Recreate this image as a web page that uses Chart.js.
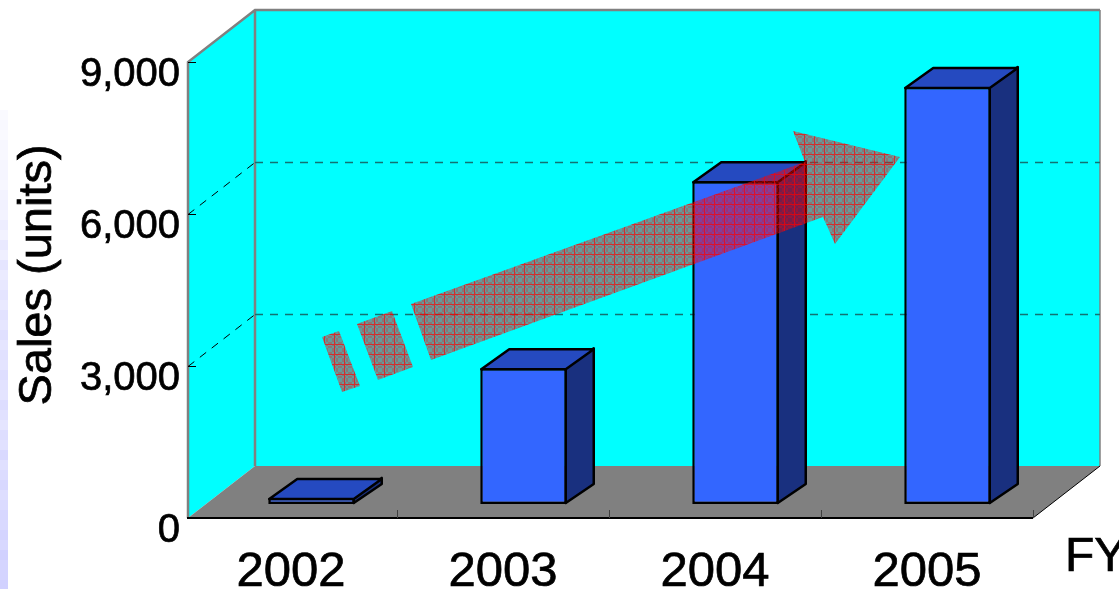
<!DOCTYPE html>
<html>
<head>
<meta charset="utf-8">
<title>Sales (units)</title>
<script src="https://cdn.jsdelivr.net/npm/chart.js@4/dist/chart.umd.min.js"></script>
<style>
  html, body { margin: 0; padding: 0; background: #fff; overflow: hidden; }
  #box { position: relative; width: 1119px; height: 589px; }
</style>
</head>
<body>
<div id="box"><canvas id="chart-sales" width="1119" height="589"></canvas></div>
<script>
const years = ['2002', '2003', '2004', '2005'];
const sales = [120, 2680, 6370, 8230];
const yTicks = [0, 3000, 6000, 9000];

const FONT = '"Liberation Sans", Arial, sans-serif';
const ROOM_INSET = 3;               // room's front corner sits right of the first category edge
const WALL = { dx: 67, dy: -52 };   // back wall offset from the front plane
const BAR_SHIFT = { dx: 20.5, dy: -14 }; // bars stand mid-way on the floor
const BAR_DEPTH = { dx: 28, dy: -20 };

// Trend arrow, outline in canvas pixels
const arrowBody = [[411, 304], [805, 162], [793, 131], [900, 157], [835, 244], [823, 217], [431, 360]];
const arrowDash1 = [[357, 324], [392, 311], [413, 367], [378, 380]];
const arrowDash2 = [[322, 337], [339, 331], [360, 386], [342, 392]];

// Faded strip of the slide background on the far left, top to bottom
const stripAlpha = [.08, .1, .08, .12, .1, .14, .16, .12, .18, .22, .18, .28, .2, .34, .24, .4, .3, .36, .42,
  .34, .44, .38, .48, .4, .46, .42, .5, .44, .42, .52, .46, .4, .5, .46, .58, .48, .54, .6, .5, .56, .62, .58, .66, .6, .7, .64, .66, .7];

function path(ctx, pts) {
  ctx.beginPath();
  pts.forEach((p, i) => i ? ctx.lineTo(p[0], p[1]) : ctx.moveTo(p[0], p[1]));
  ctx.closePath();
}

function hatchPattern(ctx) {
  const tile = document.createElement('canvas');
  tile.width = tile.height = 10;
  const t = tile.getContext('2d');
  for (let x = 0; x < 10; x++) {
    for (let y = 0; y < 10; y++) {
      t.fillStyle = (Math.floor(x / 2) + Math.floor(y / 2)) % 2 ? 'rgba(255,0,0,0.54)' : 'rgba(255,0,0,0.4)';
      t.fillRect(x, y, 1, 1);
    }
  }
  t.clearRect(0, 4, 10, 1);
  t.clearRect(4, 0, 1, 10);
  t.fillStyle = 'rgba(255,0,0,0.82)';
  t.fillRect(0, 4, 10, 1);
  t.fillRect(4, 0, 1, 4);
  t.fillRect(4, 5, 1, 5);
  return ctx.createPattern(tile, 'repeat');
}

const roomPlugin = {
  id: 'room',
  beforeDraw(chart) {
    const { ctx, chartArea: a, scales: { y } } = chart;
    const left = a.left + ROOM_INSET;
    ctx.save();

    stripAlpha.forEach((al, i) => {
      ctx.fillStyle = `rgba(190,190,255,${al})`;
      ctx.fillRect(0, 110 + i * 10, 8, 10);
    });

    const bx = left + WALL.dx, tx = a.right + WALL.dx;
    const by = a.bottom + WALL.dy, ty = a.top + WALL.dy;

    // side wall and back wall
    ctx.fillStyle = '#00ffff';
    path(ctx, [[left, a.top], [bx, ty], [bx, by], [left, a.bottom]]);
    ctx.fill();
    ctx.fillRect(bx, ty, tx - bx, by - ty);

    // floor
    ctx.fillStyle = '#808080';
    path(ctx, [[left, a.bottom], [bx, by], [tx, by], [a.right, a.bottom]]);
    ctx.fill();

    // wall edges
    ctx.strokeStyle = '#808080';
    ctx.lineWidth = 2.5;
    ctx.beginPath();
    ctx.moveTo(left, a.bottom); ctx.lineTo(left, a.top); ctx.lineTo(bx, ty); ctx.lineTo(tx, ty);
    ctx.moveTo(bx, ty); ctx.lineTo(bx, by);
    ctx.stroke();
    ctx.lineWidth = 1.5;
    ctx.beginPath();
    ctx.moveTo(tx, ty); ctx.lineTo(tx, by);
    ctx.stroke();

    // gridlines running over side wall and back wall
    ctx.setLineDash([8, 7]);
    yTicks.slice(1, 3).forEach((v) => {
      const py = Math.round(y.getPixelForValue(v)) + 0.5;
      ctx.strokeStyle = '#000';
      ctx.lineWidth = 1;
      ctx.beginPath();
      ctx.moveTo(left, py); ctx.lineTo(bx, py + WALL.dy);
      ctx.stroke();
      ctx.strokeStyle = '#127272';
      ctx.lineWidth = 1.4;
      ctx.beginPath();
      ctx.moveTo(bx, py + WALL.dy); ctx.lineTo(tx, py + WALL.dy);
      ctx.stroke();
    });
    ctx.setLineDash([]);

    // floor edge on the right, base line of the front plane
    ctx.strokeStyle = '#000';
    ctx.lineWidth = 1;
    ctx.beginPath();
    ctx.moveTo(a.right, a.bottom); ctx.lineTo(tx, by);
    ctx.stroke();
    ctx.lineWidth = 2;
    ctx.beginPath();
    ctx.moveTo(left - 1, a.bottom); ctx.lineTo(a.right, a.bottom);
    ctx.stroke();

    // inward tick marks
    ctx.lineWidth = 1;
    ctx.beginPath();
    yTicks.slice(1).forEach((v) => {
      const py = Math.round(y.getPixelForValue(v)) + 0.5;
      ctx.moveTo(left, py); ctx.lineTo(left + 8, py);
    });
    ctx.stroke();
    ctx.strokeStyle = '#404040';
    ctx.beginPath();
    years.forEach((_, i) => {
      const px = Math.round(a.left + (a.right - a.left) * (i + 1) / years.length) + 0.5;
      ctx.moveTo(px, a.bottom); ctx.lineTo(px, a.bottom - 8);
    });
    ctx.stroke();
    ctx.restore();
  },
  // side and top faces go under the library's front face, all shifted onto the floor
  beforeDatasetDraw(chart, args) {
    const { ctx } = chart;
    ctx.save();
    ctx.translate(BAR_SHIFT.dx, BAR_SHIFT.dy);
    ctx.strokeStyle = '#000';
    ctx.lineWidth = 2.5;
    ctx.lineJoin = 'round';
    args.meta.data.forEach((bar) => {
      const l = bar.x - bar.width / 2, r = bar.x + bar.width / 2;
      const top = bar.y, base = bar.base;
      const d = BAR_DEPTH;
      ctx.fillStyle = '#19307f';
      path(ctx, [[r - 1, top], [r - 1 + d.dx, top + d.dy], [r - 1 + d.dx, base + d.dy], [r - 1, base - 1]]);
      ctx.fill(); ctx.stroke();
      ctx.fillStyle = '#254ac0';
      path(ctx, [[l + 1, top + 1], [l + 1 + d.dx, top + 1 + d.dy], [r - 1 + d.dx, top + 1 + d.dy], [r - 1, top + 1]]);
      ctx.fill(); ctx.stroke();
    });
  },
  afterDatasetDraw(chart) {
    chart.ctx.restore();
  },
  afterDatasetsDraw(chart) {
    const { ctx, scales: { y } } = chart;
    ctx.save();
    ctx.fillStyle = hatchPattern(ctx);
    [arrowBody, arrowDash1, arrowDash2].forEach((pts) => {
      path(ctx, pts);
      ctx.fill();
    });

    // axis captions
    ctx.fillStyle = '#000';
    ctx.strokeStyle = '#000';
    ctx.lineWidth = 0.7;
    ctx.font = '47px ' + FONT;
    ctx.textBaseline = 'alphabetic';
    ctx.textAlign = 'center';
    ctx.save();
    ctx.translate(51, (y.top + y.bottom) / 2 - 15);
    ctx.rotate(-Math.PI / 2);
    ctx.fillText('Sales (units)', 0, 0);
    ctx.strokeText('Sales (units)', 0, 0);
    ctx.restore();
    ctx.font = '48px ' + FONT;
    ctx.textAlign = 'left';
    ctx.fillText('FY', 1065, 571);
    ctx.strokeText('FY', 1065, 571);
    ctx.restore();
  }
};

new Chart(document.getElementById('chart-sales'), {
  type: 'bar',
  plugins: [roomPlugin],
  data: {
    labels: years,
    datasets: [{
      label: 'Sales (units)',
      data: sales,
      backgroundColor: '#3366ff',
      borderColor: '#000',
      borderWidth: 2.5,
      borderSkipped: false,
      categoryPercentage: 1,
      barPercentage: 0.408
    }]
  },
  options: {
    responsive: false,
    animation: false,
    layout: { padding: { top: 62, right: 86, left: 0, bottom: 0 } },
    plugins: { legend: { display: false }, tooltip: { enabled: false } },
    scales: {
      x: {
        afterFit: (scale) => { scale.height = 71; },
        grid: { display: false, drawTicks: false },
        border: { display: false },
        ticks: {
          color: '#000', font: { family: FONT, size: 49 }, padding: 25, maxRotation: 0,
          textStrokeColor: '#000', textStrokeWidth: 0.7
        }
      },
      y: {
        min: 0,
        max: 9000,
        afterFit: (scale) => { scale.width = 185; },
        afterBuildTicks: (scale) => { scale.ticks = yTicks.map((value) => ({ value })); },
        grid: { display: false, drawTicks: false },
        border: { display: false },
        ticks: {
          color: '#000',
          font: { family: FONT, size: 40 },
          padding: 5,
          labelOffset: 13,
          textStrokeColor: '#000',
          textStrokeWidth: 0.7,
          callback: (v) => v.toLocaleString('en-US')
        }
      }
    }
  }
});
</script>
</body>
</html>
